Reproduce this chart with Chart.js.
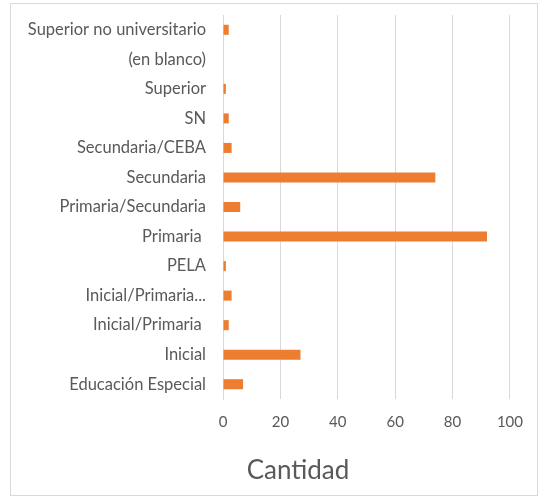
<!DOCTYPE html>
<html>
<head>
<meta charset="utf-8">
<script src="https://cdn.jsdelivr.net/npm/chart.js@4"></script>
<style>
  body { margin: 0; background: #fff; }
  #box {
    position: absolute; left: 10px; top: 3px;
    width: 526px; height: 491px;
    border: 1px solid #d9d9d9;
  }
</style>
</head>
<body>
<div id="box"><canvas id="nivelChart" width="526" height="491"></canvas></div>
<script>
// categorías (de arriba hacia abajo)
var categorias = ["Superior no universitario", "(en blanco)", "Superior", "SN", "Secundaria/CEBA",
    "Secundaria", "Primaria/Secundaria", "Primaria ", "PELA", "Inicial/Primaria...",
    "Inicial/Primaria ", "Inicial", "Educación Especial"];
// valores
var cantidad = [2, 0, 1, 2, 3, 74, 6, 92, 1, 3, 2, 27, 7];
// marcas del eje x
var ejeX = { min: 0, max: 100, paso: 20 };
var tituloEje = "Cantidad";

var gris = "#595959";
var lineaGris = "#d9d9d9";

// título del eje dibujado debajo, como en Excel
var tituloAbajo = {
    id: 'tituloAbajo',
    afterDraw: function (chart) {
        var c = chart.ctx;
        c.save();
        c.font = "26px Lato";
        c.fillStyle = gris;
        c.textAlign = "center";
        c.textBaseline = "middle";
        c.fillText(tituloEje, 287, 467);
        c.restore();
    }
};

var ctx = document.getElementById("nivelChart");
var chart = new Chart(ctx, {
    type: 'bar',
    data: {
        labels: categorias,
        datasets: [{
            label: tituloEje,
            data: cantidad,
            backgroundColor: "#ed7d31",
            categoryPercentage: 0.5,
            barPercentage: 0.68,
        }]
    },
    options: {
        indexAxis: 'y',
        responsive: false,
        animation: false,
        layout: { padding: { top: 11, right: 25, left: 0, bottom: 0 } },
        scales: {
            x: {
                min: ejeX.min,
                max: ejeX.max,
                ticks: { stepSize: ejeX.paso, color: gris, font: { family: "Lato", size: 15 }, padding: 14 },
                grid: { color: lineaGris, drawTicks: false },
                border: { display: false },
                afterFit: function (s) { s.height = 96; },
            },
            y: {
                ticks: { color: gris, font: { family: "Lato", size: 16.5 }, padding: 17, autoSkip: false },
                grid: { display: false, drawTicks: false },
                border: { color: lineaGris },
                afterFit: function (s) { s.width = 212; s.paddingTop = 0; s.paddingBottom = 0; },
            }
        },
        plugins: {
            legend: { display: false },
            tooltip: { enabled: false },
        },
    },
    plugins: [tituloAbajo],
});
</script>
</body>
</html>
